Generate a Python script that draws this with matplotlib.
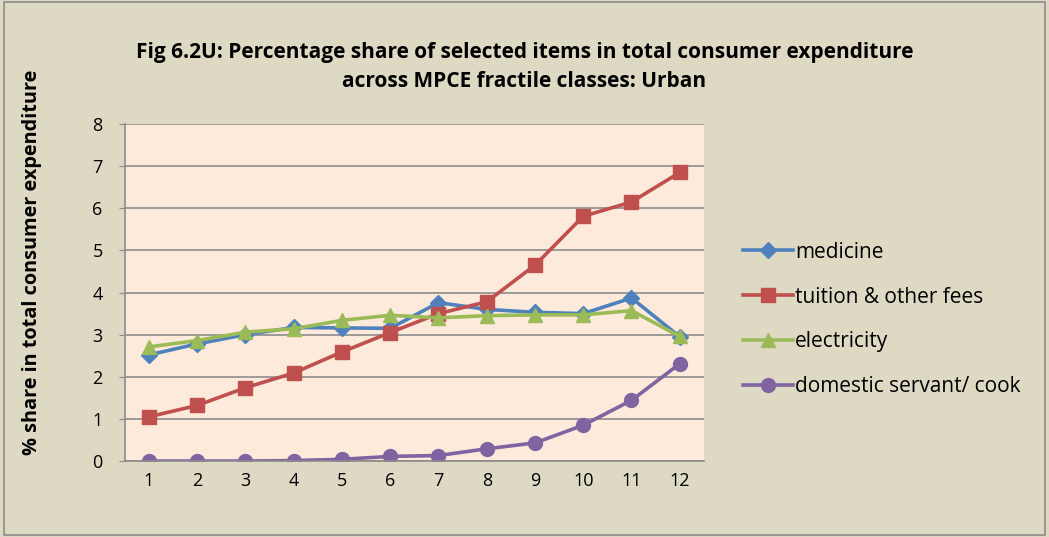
import matplotlib.pyplot as plt
from matplotlib.patches import Rectangle

# fractile classes and series
classes = [1, 2, 3, 4, 5, 6, 7, 8, 9, 10, 11, 12]
medicine = [2.52, 2.78, 3.0, 3.17, 3.16, 3.15, 3.76, 3.6, 3.53, 3.5, 3.87, 2.95]
tuition = [1.05, 1.32, 1.74, 2.09, 2.59, 3.05, 3.5, 3.78, 4.65, 5.81, 6.15, 6.85]
electricity = [2.71, 2.86, 3.06, 3.14, 3.34, 3.46, 3.4, 3.45, 3.47, 3.47, 3.57, 2.96]
servant = [0.0, 0.0, 0.0, 0.01, 0.04, 0.11, 0.13, 0.29, 0.43, 0.85, 1.44, 2.31]

plt.rcParams['font.family'] = ['Open Sans', 'DejaVu Sans']

fig = plt.figure(figsize=(10.49, 5.37), dpi=100, facecolor='#DDD9C3')
fig.patches.append(Rectangle((0.004, 0.004), 0.992, 0.992, transform=fig.transFigure,
                             fill=False, edgecolor='#8c8c8c', linewidth=1.2))
ax = fig.add_axes([0.119, 0.1415, 0.552, 0.6275])
ax.set_facecolor('#FDEADA')

ax.plot(classes, medicine, color='#4F81BD', marker='D', markersize=8, linewidth=2.6, label='medicine')
ax.plot(classes, tuition, color='#C0504D', marker='s', markersize=10, linewidth=2.6, label='tuition & other fees')
ax.plot(classes, electricity, color='#9BBB59', marker='^', markersize=10, linewidth=2.6, label='electricity')
ax.plot(classes, servant, color='#8064A2', marker='o', markersize=10, linewidth=2.6, label='domestic servant/ cook')

ax.set_xlim(0.5, 12.5)
ax.set_ylim(0, 8)
ax.set_xticks(classes)
ax.set_yticks(range(0, 9))
ax.yaxis.grid(True, color='#8c8c8c', linewidth=1.2)
ax.set_axisbelow(True)
for s in ['top', 'right']:
    ax.spines[s].set_visible(False)
for s in ['left', 'bottom']:
    ax.spines[s].set_color('#8c8c8c')
    ax.spines[s].set_linewidth(1.2)
ax.tick_params(axis='x', length=0, labelsize=13, pad=8)
ax.tick_params(axis='y', length=4, color='#8c8c8c', labelsize=13, pad=12)

ax.set_ylabel('% share in total consumer expenditure', fontsize=14.3, fontweight='bold')
ax.yaxis.set_label_coords(-0.143, 0.59)
fig.text(0.5, 0.875, 'Fig 6.2U: Percentage share of selected items in total consumer expenditure\n'
         'across MPCE fractile classes: Urban', ha='center', va='center',
         fontsize=15, fontweight='bold', linespacing=1.5)

ax.legend(loc='center left', bbox_to_anchor=(1.035, 0.42), frameon=False, fontsize=15,
          handlelength=2.4, handletextpad=0.1, labelspacing=1.15)

fig.savefig('out.png', dpi=100, facecolor=fig.get_facecolor())
